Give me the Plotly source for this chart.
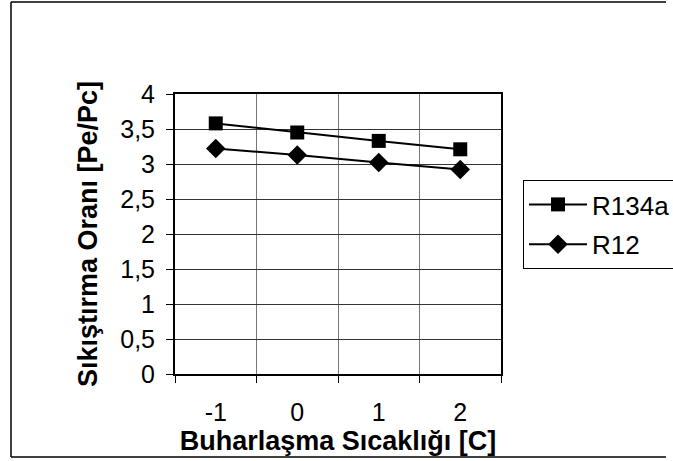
import plotly.graph_objects as go

categories = ["-1", "0", "1", "2"]
r134a = [3.58, 3.45, 3.33, 3.21]
r12 = [3.22, 3.13, 3.02, 2.92]
y_tickvals = [0, 0.5, 1, 1.5, 2, 2.5, 3, 3.5, 4]
y_ticktext = ["0", "0,5", "1", "1,5", "2", "2,5", "3", "3,5", "4"]

W, H = 673, 461
L, R, T, B = 175, 501, 94, 374  # plot area in pixels
pw, ph = R - L, B - T


def px(x):
    return (x - L) / pw


def py(y):
    return (B - y) / ph


FONT = "Liberation Sans, Arial, sans-serif"

fig = go.Figure()
fig.add_trace(go.Scatter(
    x=categories, y=r134a, name="R134a", mode="lines+markers",
    legendgroup="a",
    line=dict(color="black", width=2),
    marker=dict(symbol="square", size=14, color="black"),
))
fig.add_trace(go.Scatter(
    x=categories, y=r12, name="R12", mode="lines+markers",
    legendgroup="b",
    line=dict(color="black", width=2),
    marker=dict(symbol="diamond", size=15, color="black"),
))

border = dict(color="black", width=1.5)
shapes = [
    dict(type="line", xref="paper", yref="paper", layer="below",
         x0=px(11), x1=px(11), y0=py(457), y1=py(2), line=border),
    dict(type="line", xref="paper", yref="paper", layer="below",
         x0=px(11), x1=px(666), y0=py(2), y1=py(2), line=border),
    dict(type="line", xref="paper", yref="paper", layer="below",
         x0=px(11), x1=px(666), y0=py(457), y1=py(457), line=border),
]

fig.update_layout(
    width=W, height=H,
    margin=dict(l=L, r=W - R, t=T, b=H - B, autoexpand=False),
    paper_bgcolor="white", plot_bgcolor="white",
    font=dict(family=FONT, color="black", size=25),
    showlegend=True,
    legend=dict(
        x=px(523), y=py(180), xanchor="left", yanchor="top",
        bordercolor="black", borderwidth=1, bgcolor="white",
        font=dict(size=26, family=FONT, color="black"),
        tracegroupgap=3, itemwidth=58,
    ),
    xaxis=dict(
        type="category", range=[-0.5, 3.5],
        tickson="boundaries", ticks="outside", ticklen=7, tickcolor="black",
        showgrid=True, gridcolor="#777", gridwidth=1,
        showline=True, linecolor="black", linewidth=2, mirror=True,
        tickfont=dict(size=25, family=FONT),
        ticklabelstandoff=15,
        title=dict(text="<b>Buharlaşma Sıcaklığı [C]</b>",
                   font=dict(size=27, family=FONT), standoff=0),
        zeroline=False,
    ),
    yaxis=dict(
        range=[0, 4], tickvals=y_tickvals, ticktext=y_ticktext,
        ticks="outside", ticklen=7, tickcolor="black",
        showgrid=True, gridcolor="#333", gridwidth=1,
        showline=True, linecolor="black", linewidth=2, mirror=True,
        tickfont=dict(size=25, family=FONT),
        ticklabelstandoff=6,
        title=dict(text="<b>Sıkıştırma Oranı [Pe/Pc]</b>",
                   font=dict(size=27, family=FONT), standoff=15),
        zeroline=False,
    ),
    shapes=shapes,
)

fig.write_html("out.html")
